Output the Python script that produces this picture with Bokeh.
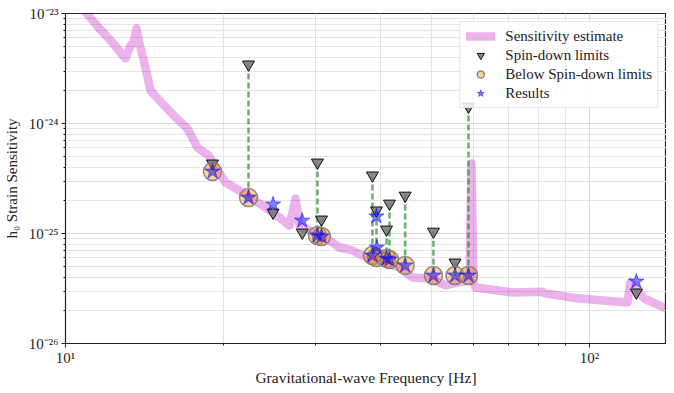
import math
from bokeh.plotting import figure
from bokeh.models import FixedTicker, CustomJSTickFormatter, Legend, LegendItem
from bokeh.embed import file_html
from bokeh.resources import INLINE

# Sensitivity estimate curve (frequency in Hz, strain)
sens_freq = [10.8, 11.56, 12.29, 13.02, 13.31, 13.48, 13.66, 13.84, 14.21, 14.53, 15.31, 16.22,
             17.09, 17.86, 18.75, 19.33, 20.20, 21.48, 23.46, 25.61, 26.76, 27.48, 27.97, 29.22,
             31.90, 33.34, 35.29, 37.53, 40.99, 43.39, 45.94, 49.51, 53.35, 55.75, 59.02, 59.54,
             60.06, 60.58, 71.29, 81.34, 82.04, 95.7, 118.2, 119.7, 127.3, 140.3]
sens_h = [1.1e-23, 7.46e-24, 5.45e-24, 3.90e-24, 5.12e-24, 5.34e-24, 7.31e-24, 5.34e-24, 3.23e-24,
          2.0e-24, 1.52e-24, 1.135e-24, 9.01e-25, 6.05e-25, 5.12e-25, 3.98e-25, 2.91e-25, 2.46e-25,
          1.87e-25, 1.40e-25, 1.18e-25, 2.08e-25, 1.18e-25, 1.064e-25, 8.64e-26, 7.46e-26, 7.01e-26,
          6.05e-26, 5.34e-26, 4.91e-26, 3.98e-26, 3.90e-26, 3.37e-26, 3.59e-26, 3.74e-26, 4.33e-25,
          3.59e-26, 3.23e-26, 2.91e-26, 2.96e-26, 2.86e-26, 2.56e-26, 2.36e-26, 3.6e-26, 2.56e-26,
          2.08e-26]

# Pulsars: frequency, spin-down limit, below-spin-down sensitivity, result (None = absent)
psr_freq = [19.08, 22.35, 24.9, 28.3, 30.26, 30.80, 38.53, 39.22, 39.3, 40.99, 41.53, 44.49,
            50.38, 55.4, 58.77, 122.9]
psr_spindown = [4.33e-25, 3.44e-24, 1.55e-25, 1.02e-25, 4.42e-25, 1.34e-25, 3.37e-25, 1.62e-25,
                None, 1.087e-25, 1.87e-25, 2.21e-25, 1.04e-25, 5.45e-26, 1.427e-24, 2.91e-26]
psr_below = [3.66e-25, 2.12e-25, None, None, 9.59e-26, 9.39e-26, 6.31e-26, 6.05e-26,
             None, 5.93e-26, 5.80e-26, 5.12e-26, 4.15e-26, 4.15e-26, 4.15e-26, None]
psr_result = [3.66e-25, 2.12e-25, 1.84e-25, 1.31e-25, 9.59e-26, 9.39e-26, 6.31e-26, 1.43e-25,
              7.46e-26, 5.93e-26, 5.80e-26, 5.12e-26, 4.15e-26, 4.15e-26, 4.15e-26, 3.66e-26]

FONT = "Liberation Serif"

p = figure(x_axis_type="log", y_axis_type="log", x_range=(10, 140.3), y_range=(1e-26, 1e-23),
           frame_width=601, frame_height=330, min_border_left=65, min_border_right=0,
           min_border_top=13, min_border_bottom=46, output_backend="svg", toolbar_location=None,
           background_fill_color="white", border_fill_color="white")
p.outline_line_color = "#222222"
p.outline_line_width = 1.2

# ticks and grids
xmaj = [10, 100]
xmin = [20, 30, 40, 50, 60, 70, 80, 90]
ymaj = [1e-26, 1e-25, 1e-24, 1e-23]
ymin = [k * 10.0 ** e for e in (-26, -25, -24) for k in range(2, 10)]
p.xaxis.ticker = FixedTicker(ticks=xmaj, minor_ticks=xmin)
p.yaxis.ticker = FixedTicker(ticks=ymaj, minor_ticks=ymin)
fmt = CustomJSTickFormatter(code="""
const sup = {'-':'\u207b','0':'\u2070','1':'\u00b9','2':'\u00b2','3':'\u00b3','4':'\u2074',
             '5':'\u2075','6':'\u2076','7':'\u2077','8':'\u2078','9':'\u2079'};
const e = Math.round(Math.log10(tick));
return '10' + String(e).split('').map(c => sup[c]).join('');
""")
p.xaxis.formatter = fmt
p.yaxis.formatter = fmt
for ax in (p.xaxis, p.yaxis):
    ax.major_label_text_font = FONT
    ax.major_label_text_font_size = "15px"
    ax.major_label_text_color = "#222222"
    ax.axis_label_text_font = FONT
    ax.axis_label_text_font_style = "normal"
    ax.axis_label_text_color = "#222222"
    ax.axis_line_color = "#222222"
    ax.major_tick_line_color = "#222222"
    ax.minor_tick_line_color = "#222222"
    ax.major_tick_out = 4
    ax.major_tick_in = 0
    ax.minor_tick_out = 2
    ax.minor_tick_in = 0
p.xaxis.axis_label_text_font_size = "15.5px"
p.yaxis.axis_label_text_font_size = "15px"
p.xaxis.axis_label = "Gravitational-wave Frequency [Hz]"
p.yaxis.axis_label = "h\u2080 Strain Sensitivity"
p.xaxis.axis_label_standoff = 0
p.yaxis.axis_label_standoff = 6
p.xaxis.major_label_standoff = 2
p.yaxis.major_label_standoff = 3

for g in (p.xgrid, p.ygrid):
    g.grid_line_color = "#d9d9d9"
    g.grid_line_width = 1
    g.minor_grid_line_color = "#e4e4e4"
    g.minor_grid_line_width = 1

# sensitivity curve
sens = p.line(sens_freq, sens_h, line_color="#bf00bf", line_alpha=0.3, line_width=8.5,
              line_join="round")

# dashed connectors
seg_f = [f for f, s, b in zip(psr_freq, psr_spindown, psr_below) if s is not None and b is not None]
seg_top = [s for s, b in zip(psr_spindown, psr_below) if s is not None and b is not None]
seg_bot = [b for s, b in zip(psr_spindown, psr_below) if s is not None and b is not None]
p.segment(x0=seg_f, y0=seg_top, x1=seg_f, y1=seg_bot, line_color="#2e8b2e", line_alpha=0.7,
          line_width=2.5, line_dash="6 3")

tri_f = [f for f, s in zip(psr_freq, psr_spindown) if s is not None]
tri_h = [s for s in psr_spindown if s is not None]
circ_f = [f for f, b in zip(psr_freq, psr_below) if b is not None]
circ_h = [b for b in psr_below if b is not None]
res_f = [f for f, r in zip(psr_freq, psr_result) if r is not None]
res_h = [r for r in psr_result if r is not None]

tri = p.scatter(tri_f, tri_h, marker="inverted_triangle", size=12, fill_color="#7a7a7a",
                fill_alpha=0.9, line_color="#111111", line_width=1)
circ = p.scatter(circ_f, circ_h, marker="circle", size=18, fill_color="#ff8c00", fill_alpha=0.4,
                 line_color="#808080", line_alpha=0.9, line_width=1.5)
star = p.scatter(res_f, res_h, marker="star", size=16, fill_color="blue", fill_alpha=0.5,
                 line_color="blue", line_alpha=0.5, line_width=1)

legend = Legend(items=[
    LegendItem(label="Sensitivity estimate", renderers=[sens]),
    LegendItem(label="Spin-down limits", renderers=[tri]),
    LegendItem(label="Below Spin-down limits", renderers=[circ]),
    LegendItem(label="Results", renderers=[star]),
], location="top_right")
legend.label_text_font = FONT
legend.label_text_font_size = "15px"
legend.label_text_color = "#222222"
legend.glyph_width = 30
legend.glyph_height = 18
legend.spacing = 1
legend.padding = 5
legend.margin = 8
legend.label_standoff = 10
legend.border_line_color = "#cccccc"
legend.border_line_width = 1
legend.background_fill_alpha = 0.85
p.add_layout(legend)

open("out.html", "w").write(file_html(p, INLINE))
